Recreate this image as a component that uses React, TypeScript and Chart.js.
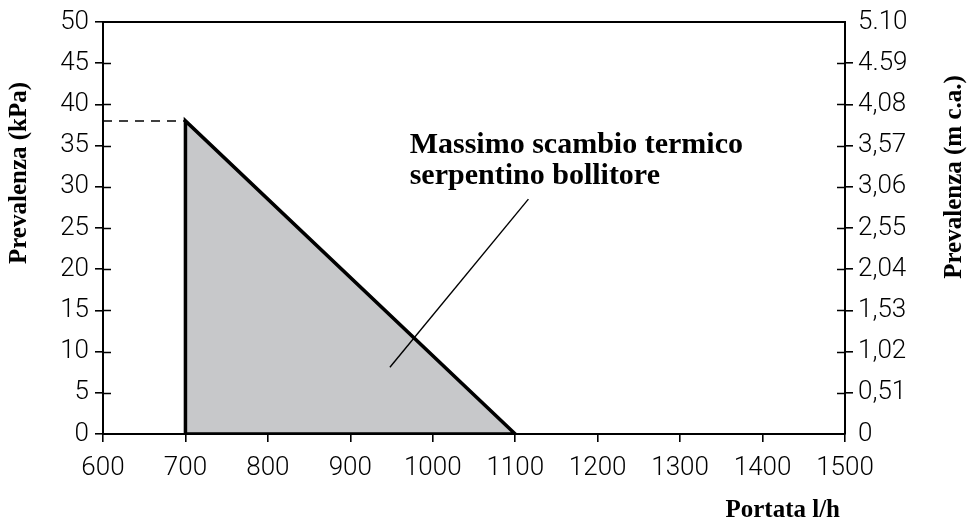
import { useEffect, useRef } from 'react';
import { Chart, registerables } from 'chart.js';

Chart.register(...registerables);

// Data
const areaFlow = [700, 1100];
const areaHead = [38, 0];
const flowLh = [700, 700, 1100, 700];
const headKPa = [0, 38, 0, 0];
const refFlow = [600, 700];
const refHead = [38, 38];
const leaderFlow = [1116, 948];
const leaderHead = [28.5, 8.1];
const rightTickLabels = ['0', '0,51', '1,02', '1,53', '2,04', '2,55', '3,06', '3,57', '4,08', '4.59', '5.10'];
const annotationLines = ['Massimo scambio termico', 'serpentino bollitore'];
const annotationAnchor = { flow: 972, head: 34.1 };
const leftTitle = 'Prevalenza (kPa)';
const rightTitle = 'Prevalenza (m c.a.)';
const xTitle = 'Portata l/h';

const TICK_FONT = { family: 'Roboto', size: 26, weight: 300 as any };
const SERIF = '"Liberation Serif", "DejaVu Serif", serif';

const decorPlugin = {
  id: 'decor',
  afterDraw(chart: any) {
    const { ctx, chartArea, scales } = chart;
    const { left, right, top } = chartArea;
    ctx.save();
    ctx.strokeStyle = '#000';
    // top border
    ctx.lineWidth = 2;
    ctx.beginPath();
    ctx.moveTo(left - 1, top);
    ctx.lineTo(right + 1, top);
    ctx.stroke();
    // inner tick halves
    ctx.lineWidth = 1.6;
    for (let v = 5; v <= 45; v += 5) {
      const y = Math.round(scales.y.getPixelForValue(v)) + 0.5;
      ctx.beginPath();
      ctx.moveTo(left, y);
      ctx.lineTo(left + 8, y);
      ctx.moveTo(right - 8, y);
      ctx.lineTo(right, y);
      ctx.stroke();
    }
    // annotation text
    ctx.fillStyle = '#000';
    ctx.font = `bold 30px ${SERIF}`;
    ctx.textAlign = 'left';
    ctx.textBaseline = 'alphabetic';
    const ax = scales.x.getPixelForValue(annotationAnchor.flow);
    const ay = scales.y.getPixelForValue(annotationAnchor.head);
    annotationLines.forEach((t, i) => ctx.fillText(t, ax, ay + i * 31));
    // axis titles
    ctx.font = `bold 25px ${SERIF}`;
    ctx.textAlign = 'center';
    ctx.textBaseline = 'middle';
    ctx.save();
    ctx.translate(20, 173);
    ctx.rotate(-Math.PI / 2);
    ctx.fillText(leftTitle, 0, 0);
    ctx.restore();
    ctx.save();
    ctx.translate(955, 177);
    ctx.rotate(-Math.PI / 2);
    ctx.fillText(rightTitle, 0, 0);
    ctx.restore();
    ctx.textAlign = 'right';
    ctx.fillText(xTitle, 840, 511);
    ctx.restore();
  },
};

export default function App() {
  const ref = useRef<HTMLCanvasElement>(null);
  useEffect(() => {
    if (!ref.current) return;
    const toPts = (xs: number[], ys: number[]) => xs.map((x, i) => ({ x, y: ys[i] }));
    const chart = new Chart(ref.current, {
      type: 'scatter',
      data: {
        datasets: [
          {
            data: toPts(flowLh, headKPa),
            showLine: true,
            borderColor: '#000',
            borderWidth: 3.5,
            borderJoinStyle: 'miter',
            fill: false,
            pointRadius: 0,
            order: 1,
          } as any,
          {
            data: toPts(refFlow, refHead),
            showLine: true,
            borderColor: '#000',
            borderWidth: 1.5,
            borderDash: [9, 7],
            pointRadius: 0,
            fill: false,
            order: 1,
          },
          {
            data: toPts(leaderFlow, leaderHead),
            showLine: true,
            borderColor: '#000',
            borderWidth: 1.4,
            pointRadius: 0,
            fill: false,
            order: 0,
          },
          {
            data: toPts(areaFlow, areaHead),
            showLine: true,
            borderWidth: 0,
            borderColor: 'rgba(0,0,0,0)',
            backgroundColor: 'rgb(199,200,202)',
            fill: 'origin',
            pointRadius: 0,
            order: 5,
          } as any,
        ],
      },
      options: {
        animation: false,
        responsive: true,
        maintainAspectRatio: false,
        layout: { padding: { top: 22, left: 0, right: 0, bottom: 0 } },
        plugins: { legend: { display: false }, tooltip: { enabled: false } },
        scales: {
          x: {
            type: 'linear',
            min: 600,
            max: 1500,
            ticks: {
              stepSize: 100,
              color: '#000',
              font: TICK_FONT,
              padding: 11,
              maxRotation: 0,
              callback: (v: any) => String(v),
            },
            grid: { drawOnChartArea: false, tickLength: 8, color: '#000', lineWidth: 1.6 },
            border: { color: '#000', width: 2 },
            afterFit: (s: any) => { s.height = 90; },
          },
          y: {
            type: 'linear',
            position: 'left',
            min: 0,
            max: 50,
            ticks: { stepSize: 5, color: '#000', font: TICK_FONT, padding: 6, callback: (v: any) => String(v) },
            grid: { drawOnChartArea: false, tickLength: 8, color: '#000', lineWidth: 1.6 },
            border: { color: '#000', width: 2 },
            afterFit: (s: any) => { s.width = 103; },
          },
          y2: {
            type: 'linear',
            position: 'right',
            min: 0,
            max: 50,
            ticks: {
              stepSize: 5,
              color: '#000',
              font: TICK_FONT,
              padding: 5,
              callback: (v: any) => rightTickLabels[Math.round(Number(v) / 5)],
            },
            grid: {
              drawOnChartArea: false,
              tickLength: 8,
              lineWidth: 1.6,
              color: '#000',
              tickColor: (c: any) => (c.index === 0 || c.index === 10 ? 'rgba(0,0,0,0)' : '#000'),
            },
            border: { color: '#000', width: 2 },
            afterFit: (s: any) => { s.width = 123; },
          },
        },
      },
      plugins: [decorPlugin],
    });
    return () => chart.destroy();
  }, []);
  return (
    <div style={{ position: 'fixed', left: 0, top: 0, width: 968, height: 524, background: '#fff' }}>
      <canvas ref={ref} />
    </div>
  );
}
